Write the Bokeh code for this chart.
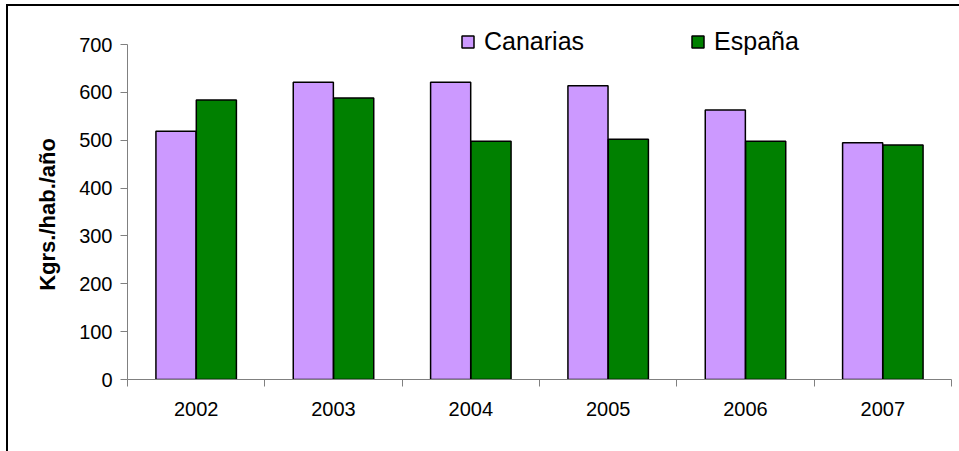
import numpy as np
from bokeh.plotting import figure
from bokeh.models import Range1d, FixedTicker, ColumnDataSource, Legend, LegendItem, InlineStyleSheet
from bokeh.embed import file_html
from bokeh.resources import INLINE

years = ["2002", "2003", "2004", "2005", "2006", "2007"]
canarias = [519, 621, 621, 614, 563, 495]
espana = [584, 588, 498, 502, 498, 490]
y_ticks = [0, 100, 200, 300, 400, 500, 600, 700]
y_max = 700
y_title = "Kgrs./hab./año"

centers = np.arange(len(years)) + 0.5
bar_w = 0.292
off = 0.147
src = ColumnDataSource(dict(xc=centers - off, xe=centers + off,
                            canarias=canarias, espana=espana))

FONT = "Liberation Sans"

p = figure(width=959, height=451, output_backend="svg", toolbar_location=None,
           x_range=Range1d(0, len(years)), y_range=Range1d(0, 792),
           min_border_left=127, min_border_right=8, min_border_top=0,
           min_border_bottom=72)
p.outline_line_color = None
p.xgrid.visible = False
p.ygrid.visible = False
p.background_fill_color = None
p.border_fill_color = None

# outer chart border (left and top edges visible in the reference)
p.stylesheets = [InlineStyleSheet(css=(
    ":host { background:"
    " linear-gradient(#000, #000) 6px 4px / 2px 100% no-repeat,"
    " linear-gradient(#000, #000) 6px 4px / 100% 2px no-repeat,"
    " #fff; }"))]

r1 = p.vbar(x="xc", top="canarias", width=bar_w, source=src,
            fill_color="#CC99FF", line_color="black", line_width=1.5)
r2 = p.vbar(x="xe", top="espana", width=bar_w, source=src,
            fill_color="#008000", line_color="black", line_width=1.5)

# x axis
xt = FixedTicker(ticks=list(centers), minor_ticks=list(range(len(years) + 1)))
p.xaxis.ticker = xt
p.xaxis.major_label_overrides = {float(c): y for c, y in zip(centers, years)}
p.xaxis.major_tick_line_color = None
p.xaxis.major_tick_out = 7
p.xaxis.major_tick_in = 0
p.xaxis.minor_tick_out = 7
p.xaxis.minor_tick_in = 0
p.xaxis.minor_tick_line_color = "#808080"
p.xaxis.axis_line_color = "#808080"
p.xaxis.major_label_standoff = 15
p.xaxis.major_label_text_font = FONT
p.xaxis.major_label_text_font_size = "20px"
p.xaxis.major_label_text_color = "black"

# y axis
p.yaxis.ticker = FixedTicker(ticks=y_ticks)
p.yaxis.bounds = (0, y_max)
p.yaxis.minor_tick_line_color = None
p.yaxis.major_tick_out = 7
p.yaxis.major_tick_in = 0
p.yaxis.major_tick_line_color = "#808080"
p.yaxis.axis_line_color = "#808080"
p.yaxis.major_label_standoff = 8
p.yaxis.major_label_text_font = FONT
p.yaxis.major_label_text_font_size = "20px"
p.yaxis.major_label_text_color = "black"
# trailing no-break spaces shift the centred title down to the 0-700 span
p.yaxis.axis_label = y_title + "\u00a0" * 8
p.yaxis.axis_label_text_font = FONT
p.yaxis.axis_label_text_font_size = "22px"
p.yaxis.axis_label_text_font_style = "bold"
p.yaxis.axis_label_text_color = "black"
p.yaxis.axis_label_standoff = 16

legend = Legend(items=[LegendItem(label="Canarias", renderers=[r1]),
                       LegendItem(label="España", renderers=[r2])],
                orientation="horizontal", location=(333, 323),
                glyph_width=15, glyph_height=15, label_standoff=9,
                spacing=106, padding=0, margin=0,
                border_line_color=None, background_fill_alpha=0,
                label_text_font=FONT, label_text_font_size="25px",
                label_text_color="black")
p.add_layout(legend)

open("out.html", "w").write(file_html(p, INLINE))
